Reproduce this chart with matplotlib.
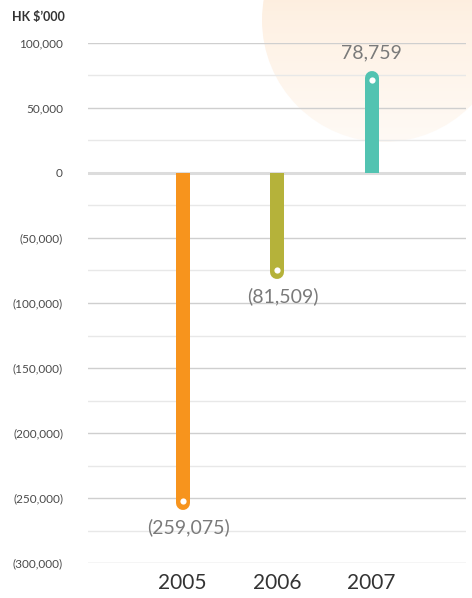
import numpy as np
import matplotlib.pyplot as plt
from matplotlib.patches import Circle, Rectangle
from matplotlib.colors import LinearSegmentedColormap

years = ["2005", "2006", "2007"]
values = [-259075, -81509, 78759]
value_labels = ["(259,075)", "(81,509)", "78,759"]
colors = ["#F7941D", "#B5B23A", "#52C3B1"]
major_ticks = [100000, 50000, 0, -50000, -100000, -150000, -200000, -250000, -300000]
major_labels = ["100,000", "50,000", "0", "(50,000)", "(100,000)", "(150,000)",
                "(200,000)", "(250,000)", "(300,000)"]

W, H = 472, 598
fig = plt.figure(figsize=(W / 100, H / 100), dpi=100)
plt.rcParams['font.family'] = ['Lato', 'DejaVu Sans']

# peach circle in the top right corner
bg = fig.add_axes([0, 0, 1, 1])
bg.set_xlim(0, W)
bg.set_ylim(H, 0)
bg.axis("off")
cx, cy, rad = 384, 20, 122
cmap = LinearSegmentedColormap.from_list("peach", ["#FCE3C9", "#FEF1E4", "#FFFAF5"])
grad = np.linspace(0, 1, 256).reshape(-1, 1)
im = bg.imshow(grad, cmap=cmap, extent=[cx - rad, cx + rad, cy + rad, cy - rad],
               aspect="auto", zorder=0)
im.set_clip_path(Circle((cx, cy), rad, transform=bg.transData))

ax = fig.add_axes([88 / W, (H - 563) / H, (466 - 88) / W, 520 / H])
ax.set_facecolor("none")
ax.set_xlim(-1, 3)
ax.set_ylim(-300000, 100000)

for t in np.arange(-300000, 100001, 25000):
    if t == 0:
        ax.axhline(t, color="#DCDCDC", lw=2.2, zorder=1)
    elif t % 50000 == 0:
        ax.axhline(t, color="#CFCFCF", lw=1.0, zorder=1)
    else:
        ax.axhline(t, color="#E8E8E8", lw=1.0, zorder=1)

px_per_unit = 520 / 400000
r = 7 / px_per_unit
lw_pt = 14 * 72 / 100
x = np.arange(len(years))
for i, (v, c) in enumerate(zip(values, colors)):
    s = np.sign(v)
    line, = ax.plot([x[i], x[i]], [-s * r, v - s * r], color=c, lw=lw_pt,
                    solid_capstyle="round", zorder=3)
    clip = Rectangle((x[i] - 0.5, 0), 1, s * 1e6, transform=ax.transData)
    line.set_clip_path(clip)
    ax.scatter(x[i], v - s * 9 / px_per_unit, s=20, color="white", zorder=4,
               linewidths=0, clip_on=False)
    if v < 0:
        ax.annotate(value_labels[i], (x[i], v), xytext=(4, -6), textcoords="offset points",
                    ha="center", va="top", fontsize=14, color="#7A7A7A")
    else:
        ax.annotate(value_labels[i], (x[i], v), xytext=(0, 7), textcoords="offset points",
                    ha="center", va="bottom", fontsize=14, color="#7A7A7A")

ax.set_yticks(major_ticks)
ax.set_yticklabels(major_labels, fontsize=8.5, color="#4A4A4A")
ax.set_xticks(x)
ax.set_xticklabels(years, fontsize=15, color="#333333")
ax.tick_params(axis="y", length=0, pad=18)
ax.tick_params(axis="x", length=0, pad=7)
for sp in ax.spines.values():
    sp.set_visible(False)

fig.text(12 / W, 1 - 17 / H, "HK $\u2019000", fontsize=9, fontweight="bold",
         color="#333333", va="center", ha="left")

fig.savefig("out.png", dpi=100)
